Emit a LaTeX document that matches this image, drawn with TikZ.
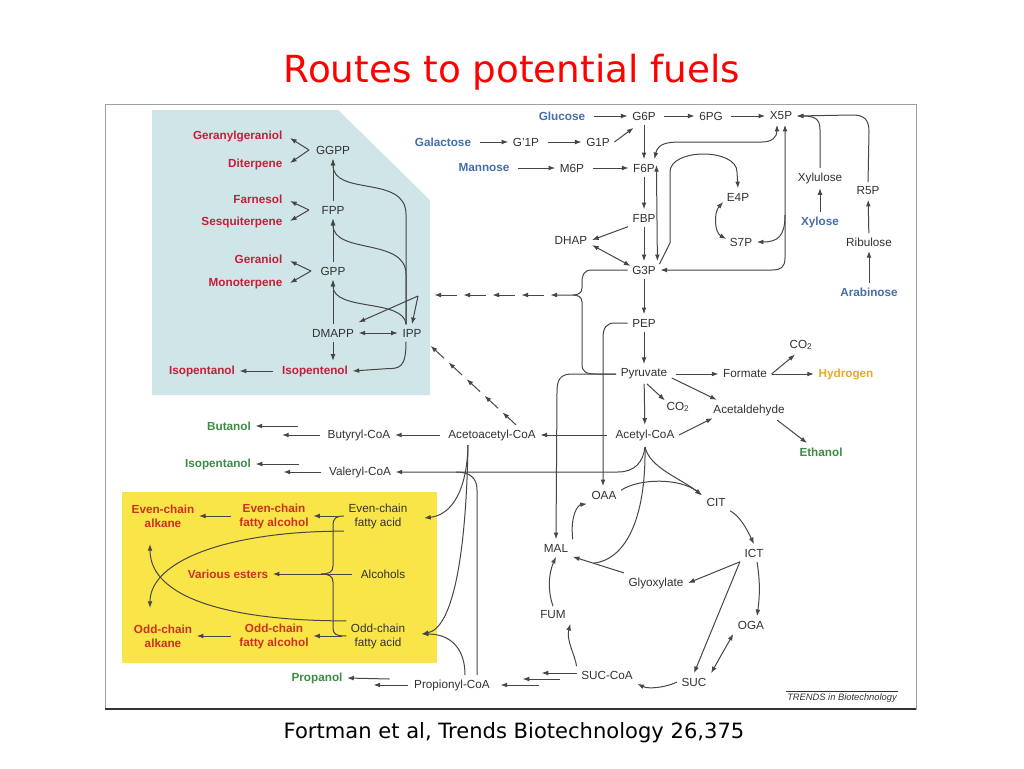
\documentclass[tikz,border=0pt]{standalone}
\usepackage{fontspec}
\setmainfont{Liberation Sans}
\newfontfamily\titlefont{DejaVu Sans}
\usetikzlibrary{arrows.meta,calc}
\definecolor{tealbg}{RGB}{207,229,231}
\definecolor{yelbg}{RGB}{250,229,72}
\definecolor{redT}{RGB}{196,30,58}
\definecolor{redY}{RGB}{205,48,30}
\definecolor{blueT}{RGB}{70,110,170}
\definecolor{greenT}{RGB}{60,140,70}
\definecolor{orangeT}{RGB}{230,170,40}
\definecolor{dtext}{RGB}{50,50,50}
\definecolor{lnc}{RGB}{70,70,70}
\definecolor{framec}{RGB}{160,160,160}
\definecolor{titlered}{RGB}{255,0,0}
\begin{document}
\begin{tikzpicture}[x=0.75pt,y=-0.75pt,
  lbl/.style={font=\fontsize{8.8}{10.5}\selectfont, inner sep=2pt, outer sep=1.5pt, align=center, text=dtext},
  dl/.style={lbl},
  rl/.style={lbl, font=\fontsize{8.8}{10.5}\selectfont\bfseries, text=redT},
  yl/.style={lbl, font=\fontsize{8.8}{10.5}\selectfont\bfseries, text=redY},
  bl/.style={lbl, font=\fontsize{8.8}{10.5}\selectfont\bfseries, text=blueT},
  gl/.style={lbl, font=\fontsize{8.8}{10.5}\selectfont\bfseries, text=greenT},
  hl/.style={lbl, font=\fontsize{8.8}{10.5}\selectfont\bfseries, text=orangeT},
  arr/.style={draw=lnc, line width=0.75pt, -{Latex[length=5pt,width=3.6pt]}},
  narr/.style={arr, shorten <=3pt},
  darr/.style={draw=lnc, line width=0.75pt, {Latex[length=5pt,width=3.6pt]}-{Latex[length=5pt,width=3.6pt]}},
  conn/.style={draw=lnc, line width=0.75pt},
]
\useasboundingbox (0,0) rectangle (1024,768);
\fill[white] (0,0) rectangle (1024,768);

% title and caption
\node[font=\titlefont\fontsize{28}{32}\selectfont, text=titlered] (title) at (512,72) {Routes to potential fuels};
\node[font=\titlefont\fontsize{15.8}{18}\selectfont, text=black] (caption) at (514,733) {Fortman et al, Trends Biotechnology 26,375};

% backgrounds and frame
\fill[tealbg] (152,110) -- (338,110) -- (430,200) -- (430,395) -- (152,395) -- cycle;
\fill[yelbg] (122,492) rectangle (437,663);
\draw[framec, line width=0.6pt] (105,104) rectangle (916,709);
\draw[black!80, line width=1.2pt] (105,709) -- (916,709);

% ---------- terpenoid nodes ----------
\node[rl, anchor=east] (ggol) at (287,136) {Geranylgeraniol};
\node[rl, anchor=east] (dit) at (287,164) {Diterpene};
\node[dl] (ggpp) at (333,150) {GGPP};
\node[rl, anchor=east] (farn) at (287,199) {Farnesol};
\node[rl, anchor=east] (sesq) at (287,222) {Sesquiterpene};
\node[dl] (fpp) at (333,210) {FPP};
\node[rl, anchor=east] (ger) at (287,259) {Geraniol};
\node[rl, anchor=east] (mono) at (287,284) {Monoterpene};
\node[dl] (gpp) at (333,271) {GPP};
\node[dl] (dmapp) at (333,333) {DMAPP};
\node[dl] (ipp) at (412,333) {IPP};
\node[rl] (ipen) at (315,371) {Isopentenol};
\node[rl] (ipan) at (202,371) {Isopentanol};

% ---------- sugars / glycolysis ----------
\node[bl] (glc) at (562,116) {Glucose};
\node[dl] (g6p) at (644,116) {G6P};
\node[dl] (pg6) at (711,116) {6PG};
\node[dl] (x5p) at (781,116) {X5P};
\node[bl] (gal) at (443,142) {Galactose};
\node[dl] (gp1) at (526,142) {G'1P};
\node[dl] (g1p) at (598,142) {G1P};
\node[bl] (man) at (484,168) {Mannose};
\node[dl] (m6p) at (572,168) {M6P};
\node[dl] (f6p) at (644,168) {F6P};
\node[dl] (fbp) at (644,218) {FBP};
\node[dl] (dhap) at (571,240) {DHAP};
\node[dl] (g3p) at (644,270) {G3P};
\node[dl] (e4p) at (738,197) {E4P};
\node[dl] (s7p) at (741,242) {S7P};
\node[dl] (xylu) at (820,178) {Xylulose};
\node[bl] (xyl) at (820,222) {Xylose};
\node[dl] (r5p) at (868,191) {R5P};
\node[dl] (ribu) at (869,242) {Ribulose};
\node[bl] (ara) at (869,292) {Arabinose};
\node[dl] (pep) at (644,323) {PEP};
\node[dl] (pyr) at (644,374) {Pyruvate};
\node[dl] (form) at (745,374) {Formate};
\node[dl] (co2a) at (801,345) {CO\textsubscript{2}};
\node[hl] (hyd) at (846,374) {Hydrogen};
\node[dl] (co2b) at (678,407) {CO\textsubscript{2}};
\node[dl] (acald) at (749,410) {Acetaldehyde};
\node[dl] (acoa) at (645,435) {Acetyl-CoA};
\node[gl] (eth) at (821,452) {Ethanol};
\node[dl] (aacoa) at (492,435) {Acetoacetyl-CoA};
\node[dl] (bcoa) at (359,435) {Butyryl-CoA};
\node[gl] (but) at (229,426) {Butanol};
\node[dl] (vcoa) at (360,472) {Valeryl-CoA};
\node[gl] (ipan2) at (218,464) {Isopentanol};
\node[dl] (oaa) at (604,495) {OAA};
\node[dl] (cit) at (716,502) {CIT};
\node[dl] (mal) at (556,548) {MAL};
\node[dl] (ict) at (754,553) {ICT};
\node[dl] (glx) at (656,583) {Glyoxylate};
\node[dl] (fum) at (553,615) {FUM};
\node[dl] (oga) at (751,625) {OGA};
\node[dl] (succoa) at (607,675) {SUC-CoA};
\node[dl] (suc) at (694,682) {SUC};
\node[dl] (prcoa) at (452,685) {Propionyl-CoA};
\node[gl] (prop) at (317,678) {Propanol};

% ---------- yellow box nodes ----------
\node[yl] (ealk) at (163,516) {Even-chain\\alkane};
\node[yl] (ealc) at (274,516) {Even-chain\\fatty alcohol};
\node[dl] (efa) at (378,516) {Even-chain\\fatty acid};
\node[yl] (est) at (228,574) {Various esters};
\node[dl] (alc) at (383,574) {Alcohols};
\node[yl] (oalk) at (163,636) {Odd-chain\\alkane};
\node[yl] (oalc) at (274,636) {Odd-chain\\fatty alcohol};
\node[dl] (ofa) at (378,636) {Odd-chain\\fatty acid};

\node[font=\fontsize{7}{8}\selectfont\itshape, text=dtext, inner sep=1pt] (trends) at (842,698) {TRENDS in Biotechnology};
\draw[dtext, line width=0.5pt] ($(trends.north west)+(0,-1)$) -- ($(trends.north east)+(0,-1)$);

% ---------- terpenoid connectors ----------
\coordinate (vgg) at (309,150);
\coordinate (vfp) at (309,210);
\coordinate (vgp) at (311,271);
\draw[arr] (vgg) -- ($(ggol.east)+(3,2)$);
\draw[arr] (vgg) -- ($(dit.east)+(3,-1)$);
\draw[arr] (vfp) -- ($(farn.east)+(3,2)$);
\draw[arr] (vfp) -- ($(sesq.east)+(3,-1)$);
\draw[arr] (vgp) -- ($(ger.east)+(3,2)$);
\draw[arr] (vgp) -- ($(mono.east)+(3,-1)$);
\draw[arr] (dmapp) -- (gpp);
\draw[arr] (gpp) -- (fpp);
\draw[arr] (fpp) -- (ggpp);
\coordinate (ippt) at ($(ipp.north)+(-6,0)$);
\draw[arr] (ippt) -- ($(ippt)+(0,-110)$) .. controls ($(ippt)+(0,-150)$) and ($(ggpp.south)+(0,38)$) .. (ggpp.south);
\draw[arr] (ippt) -- ($(ippt)+(0,-50)$) .. controls ($(ippt)+(0,-87)$) and ($(fpp.south)+(0,36)$) .. (fpp.south);
\draw[arr] (ippt) .. controls ($(ippt)+(-2,-26)$) and ($(gpp.south)+(0,32)$) .. (gpp.south);
\draw[darr] (dmapp) -- (ipp);
\draw[arr] (dmapp.south) -- (dmapp.south |- ipen.north);
\draw[arr] ($(ipp.south)+(-6,0)$) .. controls ($(ipp.south)+(-6,26)$) and ($(ipp.south)+(-12,27)$) .. ($(ipp.south)+(-26,27)$) -- (ipen.east);
\draw[narr] (ipen) -- (ipan);

% MEP route (dashed with repeated heads)
\coordinate (mepA) at (573,295);
\coordinate (mepB) at (428,295);
\coordinate (msplit) at (418,296);
\foreach \i in {0,...,4}{
  \pgfmathsetmacro\ta{\i/5}
  \pgfmathsetmacro\tb{(\i+0.78)/5}
  \draw[arr] ($(mepA)!\ta!(mepB)$) -- ($(mepA)!\tb!(mepB)$);
}
\draw[arr] (msplit) -- (ipp.north);
\draw[arr] (msplit) -- ($(dmapp.north east)+(0,-2)$);

% Acetoacetyl-CoA -> IPP (dashed with repeated heads)
\coordinate (acA) at ($(aacoa.north)+(24,0)$);
\coordinate (acB) at ($(ipp.south east)+(0,0)$);
\foreach \i in {0,...,4}{
  \pgfmathsetmacro\ta{\i/5}
  \pgfmathsetmacro\tb{(\i+0.75)/5}
  \draw[arr] ($(acA)!\ta!(acB)$) -- ($(acA)!\tb!(acB)$);
}

% ---------- glycolysis / PPP connectors ----------
\draw[narr] (glc) -- (g6p);
\draw[narr] (g6p) -- (pg6);
\draw[narr] (pg6) -- (x5p);
\draw[narr] (gal) -- (gp1);
\draw[narr] (gp1) -- (g1p);
\draw[arr] (g1p.east) -- ($(g6p.south west)+(6,3)$);
\draw[narr] (man) -- (m6p);
\draw[narr] (m6p) -- (f6p);
\draw[arr] (g6p) -- (f6p);
\draw[arr] (f6p) -- (fbp);
\draw[arr] (fbp) -- (g3p);
\draw[arr] (fbp.south west) -- (dhap.east);
\draw[darr] ($(dhap.east)+(0,5)$) -- ($(g3p.west)+(3,-4)$);
\draw[darr] ($(g3p.north east)+(-3,0)$) -- ($(f6p.east)+(-3,-3)$);
\draw[arr] ($(g3p.north east)+(-1,3)$) -- (670,243) -- (670,172) .. controls (670,148) and (737,148) .. (737,172) -- (e4p.north);
\draw[darr] ($(f6p.north east)+(-5,0)$) .. controls (658,143) and (668,142) .. (682,142) -- (762,142) .. controls (772,142) and (777,137) .. ($(x5p.south)+(-4,0)$);
\draw[darr] ($(x5p.south)+(4,0)$) -- (785,258) .. controls (785,267) and (781,270) .. (772,270) -- (g3p.east);
\draw[arr] (785,215) .. controls (785,236) and (778,242) .. (s7p.east);
\draw[darr] ($(e4p.west)+(1,5)$) .. controls (714,212) and (714,232) .. ($(s7p.west)+(1,-3)$);
\draw[arr] (xyl) -- (xylu);
\draw[arr] (xylu.north) -- (820,130) .. controls (820,119) and (815,116) .. (x5p.east);
\draw[arr] (r5p.north) -- (869,132) .. controls (869,119) and (864,115) .. (852,115) -- (x5p.east);
\draw[arr] (ribu) -- (r5p);
\draw[arr] (ara) -- (ribu);
\draw[arr] (g3p) -- (pep);
\draw[arr] (pep) -- (pyr);

% brace G3P + Pyruvate -> MEP
\draw[conn] (g3p.west) -- (592,270) .. controls (583,270) and (582,276) .. (582,283) -- (582,288) .. controls (582,293) and (578,295) .. (mepA);
\draw[conn] (mepA) .. controls (578,295) and (582,297) .. (582,302) -- (582,364) .. controls (582,372) and (586,374) .. (596,374) -- (pyr.west);

% pyruvate branches
\draw[arr] (pyr.west) -- (572,374) .. controls (560,374) and (557,380) .. (557,392) -- (mal.north);
\draw[arr] (pep.west) -- (615,323) .. controls (606,323) and (603,328) .. (603,338) -- ($(oaa.north)+(-1,0)$);
\draw[narr] (pyr) -- (form);
\draw[arr] (form.east) -- ($(co2a.south)+(-6,0)$);
\draw[arr] (form.east) -- (hyd.west);
\draw[arr] ($(pyr.east)+(0,4)$) -- ($(acald.north west)+(8,0)$);
\draw[arr] ($(pyr.south)+(3,0)$) -- ($(co2b.north west)+(3,3)$);
\draw[arr] (pyr) -- (acoa);
\draw[arr] (acoa.east) -- ($(acald.south west)+(4,-2)$);
\draw[arr] ($(acald.south east)+(-12,0)$) -- ($(eth.north)+(-14,0)$);
\draw[narr] (acoa) -- (aacoa);
\draw[narr] (aacoa) -- (bcoa);

% staircase arrows
\draw[arr] ($(bcoa.west)+(-3,0)$) -- ($(bcoa.west)+(-41,0)$);
\draw[arr] ($(bcoa.west)+(-25,-9)$) -- (but.east);
\draw[arr] ($(vcoa.west)+(-3,0)$) -- ($(vcoa.west)+(-41,0)$);
\draw[arr] ($(vcoa.west)+(-25,-8)$) -- (ipan2.east);
\draw[arr] ($(prcoa.west)+(-2,0)$) -- ($(prcoa.west)+(-36,0)$);
\draw[arr] ($(prcoa.west)+(-20,-6)$) -- (prop.east);
\draw[arr] ($(succoa.west)+(0,-2)$) -- ($(succoa.west)+(-35,-2)$);
\draw[arr] ($(succoa.west)+(-17,4)$) -- ($(succoa.west)+(-54,4)$);
\draw[arr] ($(succoa.west)+(-38,10)$) -- ($(prcoa.east)+(6,0)$);

% acetyl-CoA cusp
\coordinate (cusp) at ($(acoa.south)+(0,2)$);
\coordinate (glxmal) at ($(glx.north west)!0.6!(mal.south east)$);
\draw[arr] (cusp) .. controls (643,462) and (635,472) .. (618,472) -- (vcoa.east);
\draw[arr] (cusp) .. controls (650,468) and (680,478) .. ($(cit.north west)+(0,2)$);
\draw[arr] ($(oaa.north east)+(0,4)$) .. controls (640,478) and (680,478) .. ($(cit.north west)+(0,2)$);
\draw[conn] (cusp) .. controls (646,520) and (625,560) .. (glxmal);
\draw[arr] (glx.north west) -- (mal.south east);

% acetoacetyl / propionyl to fatty acids
\coordinate (aas) at ($(aacoa.south)+(-24,0)$);
\draw[arr] (aas) .. controls (467,490) and (452,515) .. ($(efa.east)+(12,2)$);
\draw[arr] (aas) .. controls (466,560) and (452,628) .. ($(ofa.east)+(12,-2)$);
\draw[arr] ($(prcoa.north)+(13,0)$) .. controls (465,650) and (452,634) .. ($(ofa.east)+(12,-2)$);
\draw[conn] ($(prcoa.north)+(25,0)$) -- (477,490) .. controls (477,478) and (470,472) .. (456,472);

% yellow box connectors
\draw[narr] (efa.west) -- (ealc.east);
\draw[narr] (ealc.west) -- (ealk.east);
\draw[narr] (ofa.west) -- (oalc.east);
\draw[narr] (oalc.west) -- (oalk.east);
\draw[narr] (alc) -- (est);
\draw[conn] (efa.west) .. controls (336,516) and (333,518) .. (333,526) -- (333,566) .. controls (333,572) and (329,574) .. (321,574);
\draw[conn] (321,574) .. controls (329,574) and (333,576) .. (333,582) -- (333,628) .. controls (333,634) and (336,636) .. (ofa.west);
\draw[arr] ($(efa.south west)+(0,-2)$) .. controls (230,531) and (150,560) .. ($(oalk.north)+(-13,-12)$);
\draw[arr] ($(ofa.north west)+(0,2)$) .. controls (230,621) and (150,598) .. ($(ealk.south)+(-13,12)$);

% TCA cycle
\draw[arr] (mal.north east) .. controls (570,515) and (578,505) .. (oaa.south west);
\draw[arr] (fum.north) .. controls (548,592) and (548,575) .. (mal.south);
\draw[arr] (succoa.north west) .. controls (575,655) and (566,640) .. (fum.south east);
\draw[arr] (suc.west) .. controls (670,686) and (650,690) .. (succoa.south east);
\draw[arr] (cit.south east) .. controls (738,515) and (745,525) .. (ict.north);
\draw[arr] ($(ict.south)+(3,0)$) .. controls (760,580) and (760,595) .. ($(oga.north)+(6,0)$);
\draw[darr] (oga.south west) -- (suc.north east);
\draw[arr] (ict.south west) -- (glx.east);
\draw[arr] (ict.south west) -- (suc.north);
\end{tikzpicture}
\end{document}
